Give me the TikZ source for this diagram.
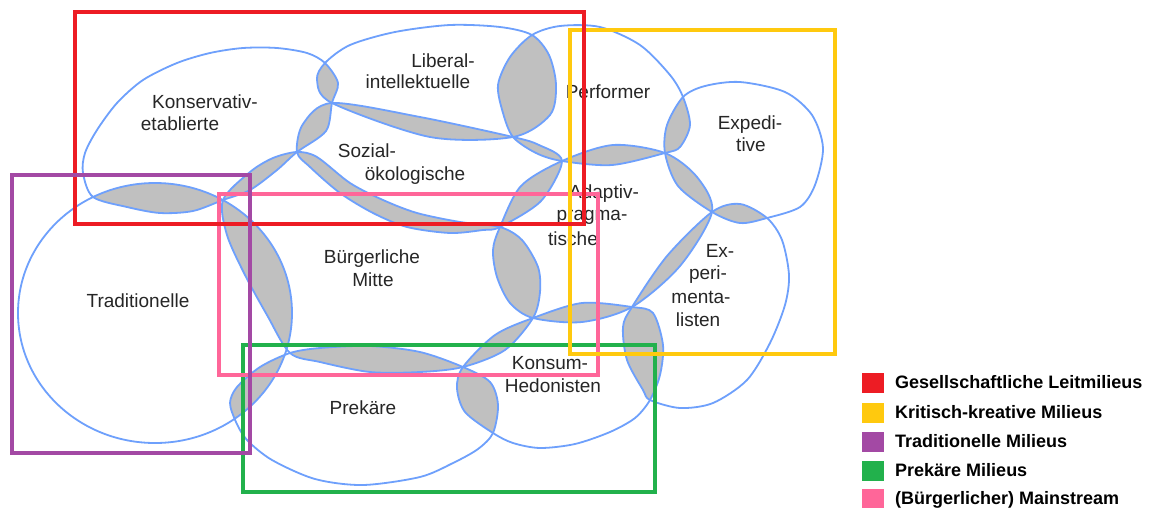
\documentclass[tikz,border=0pt]{standalone}
\usepackage{fontspec}
\setmainfont{Liberation Sans}
\usepackage{tikz}

\definecolor{lineblue}{RGB}{110,160,252}
\definecolor{lensgray}{RGB}{192,192,192}
\definecolor{cred}{RGB}{237,28,36}
\definecolor{cyellow}{RGB}{255,201,14}
\definecolor{cpurple}{RGB}{163,73,164}
\definecolor{cgreen}{RGB}{34,177,76}
\definecolor{cpink}{RGB}{255,102,153}

\newcommand{\lblfont}{\fontsize{19}{22}\selectfont}
\newcommand{\legfont}{\fontsize{18}{21}\selectfont\bfseries}

% Umrisse der Milieus (Pixelkoordinaten, y nach unten)
\newcommand{\pKET}{plot[smooth cycle] coordinates {(325,63) (338,83) (332,103) (326,131) (297,152) (277,170) (250,190) (223,200) (193,211) (160,213) (127,207) (93,197) (83,173) (85,153) (97,130) (117,103) (143,80) (177,63) (210,53) (243,48) (277,48) (307,53)}}
\newcommand{\pLIB}{plot[smooth cycle] coordinates {(325,63) (350,45) (395,32) (450,25) (500,27) (532,35) (549,55) (556,85) (550,115) (513,137) (430,137) (332,103) (317,80)}}
\newcommand{\pPER}{plot[smooth cycle] coordinates {(532,35) (560,26) (600,27) (640,45) (670,75) (683,97) (690,125) (680,147) (665,153) (612,165) (562,161) (536,153) (513,137) (503,113) (498,85) (510,57)}}
\newcommand{\pEXP}{plot[smooth cycle] coordinates {(683,97) (705,86) (740,82) (785,92) (812,115) (823,148) (815,185) (800,207) (767,218) (740,223) (712,212) (678,186) (665,153) (667,125)}}
\newcommand{\pSOZ}{plot[smooth cycle] coordinates {(332,103) (420,117) (513,137) (539,145) (562,161) (541,201) (500,227) (483,230) (450,233) (407,227) (373,213) (340,193) (310,167) (297,152) (303,124)}}
\newcommand{\pADA}{plot[smooth cycle] coordinates {(562,161) (613,145) (665,153) (697,177) (712,212) (680,266) (632,307) (582,322) (533,318) (510,303) (497,277) (493,250) (500,227) (521,186)}}
\newcommand{\pBM}{plot[smooth cycle] coordinates {(223,200) (250,172) (273,158) (297,152) (317,157) (350,183) (383,200) (417,213) (460,222) (500,227) (522,240) (538,267) (540,292) (533,318) (505,350) (463,367) (420,372) (370,372) (320,362) (290,353) (267,315) (245,275) (227,235)}}
\newcommand{\pTRA}{(155,313) ellipse [x radius=137, y radius=130]}
\newcommand{\pPRE}{plot[smooth cycle] coordinates {(290,353) (320,348) (370,346) (420,352) (463,367) (490,382) (498,405) (493,433) (478,449) (453,463) (420,477) (363,485) (315,479) (272,460) (247,440) (236,422) (230,403) (237,387) (260,367)}}
\newcommand{\pHED}{plot[smooth cycle] coordinates {(533,318) (582,303) (632,307) (653,313) (663,345) (660,375) (650,400) (635,418) (610,432) (575,444) (540,448) (513,443) (493,433) (465,412) (457,388) (463,367) (495,335)}}
\newcommand{\pEXM}{plot[smooth cycle] coordinates {(712,212) (740,204) (767,218) (782,240) (789,275) (785,305) (770,343) (747,380) (713,403) (680,408) (650,400) (643,390) (627,360) (623,327) (632,307) (667,256)}}

\begin{document}
\begin{tikzpicture}[x=1pt, y=-1pt,
    milieu/.style={draw=lineblue, line width=1.8pt},
    lens/.style={fill=lensgray},
    frame/.style={line width=4pt},
    lbl/.style={font=\lblfont, text=black!85, anchor=base, inner sep=0pt},
    legbox/.style={minimum width=22pt, minimum height=20pt, inner sep=0pt},
    legtext/.style={font=\legfont, anchor=base west, inner sep=0pt}]

    \useasboundingbox (0,0) rectangle (1149,507);
    \fill[white] (0,0) rectangle (1149,507);

    % =================================================================
    % 1. UEBERSCHNEIDUNGEN GRAU
    % =================================================================
    \foreach \a/\b in {KET/LIB, KET/SOZ, KET/BM, KET/TRA, LIB/PER, LIB/SOZ,
        PER/EXP, PER/ADA, PER/SOZ, EXP/ADA, EXP/EXM, ADA/EXM, ADA/HED,
        ADA/BM, ADA/SOZ, SOZ/BM, BM/TRA, BM/PRE, BM/HED, TRA/PRE,
        PRE/HED, HED/EXM} {
        \begin{scope}
            \clip \csname p\a\endcsname;
            \fill[lens] \csname p\b\endcsname;
        \end{scope}
    }

    % =================================================================
    % 2. UMRISSE DER MILIEUS
    % =================================================================
    \foreach \m in {KET, LIB, PER, EXP, SOZ, ADA, BM, TRA, PRE, HED, EXM} {
        \draw[milieu] \csname p\m\endcsname;
    }

    % Beschriftungen
    \node[lbl] (lib1) at (443,67) {Liberal-};
    \node[lbl] (lib2) at (418,88) {intellektuelle};
    \node[lbl] (ket1) at (205,108) {Konservativ-};
    \node[lbl] (ket2) at (180,130) {etablierte};
    \node[lbl] (per) at (608,98) {Performer};
    \node[lbl] (exp1) at (750,129) {Expedi-};
    \node[lbl] (exp2) at (751,151) {tive};
    \node[lbl] (soz1) at (367,157) {Sozial-};
    \node[lbl] (soz2) at (415,180) {ökologische};
    \node[lbl] (ada1) at (604,198) {Adaptiv-};
    \node[lbl] (ada2) at (592,220) {pragma-};
    \node[lbl] (ada3) at (573,245) {tische};
    \node[lbl] (bm1) at (372,263) {Bürgerliche};
    \node[lbl] (bm2) at (373,286) {Mitte};
    \node[lbl] (tra) at (138,307) {Traditionelle};
    \node[lbl] (exm1) at (720,257) {Ex-};
    \node[lbl] (exm2) at (708,279) {peri-};
    \node[lbl] (exm3) at (701,303) {menta-};
    \node[lbl] (exm4) at (698,326) {listen};
    \node[lbl] (hed1) at (550,369) {Konsum-};
    \node[lbl] (hed2) at (553,392) {Hedonisten};
    \node[lbl] (pre) at (363,414) {Prekäre};

    % =================================================================
    % 3. RAHMEN DER MILIEUGRUPPEN
    % =================================================================
    \draw[frame, cgreen] (243,344.7) rectangle (655,491.7);
    \draw[frame, cpink] (218.7,194) rectangle (598,375.3);
    \draw[frame, cyellow] (570,29.7) rectangle (835,354);
    \draw[frame, cred] (75.3,11.5) rectangle (583.7,224.3);
    \draw[frame, cpurple] (11.7,175.3) rectangle (249.5,452.8);

    % Legende
    \foreach \col/\txt/\yy [count=\i] in {cred/Gesellschaftliche Leitmilieus/383,
        cyellow/Kritisch-kreative Milieus/413, cpurple/Traditionelle Milieus/442,
        cgreen/Prekäre Milieus/471, cpink/(Bürgerlicher) Mainstream/499} {
        \node[legbox, fill=\col] (key\i) at (873,\yy) {};
        \node[legtext] (leg\i) at (895,\yy+5) {\txt};
    }

\end{tikzpicture}
\end{document}
